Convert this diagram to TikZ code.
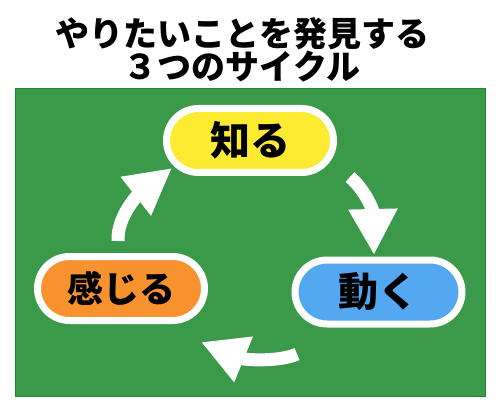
\documentclass[tikz,border=0pt]{standalone}
\usepackage{fontspec}
\newfontfamily\cjk{Noto Sans CJK JP}[BoldFont={Noto Sans CJK JP Black}]
\usetikzlibrary{arrows.meta}
\definecolor{bggreen}{HTML}{3A9A49}
\definecolor{edgegreen}{HTML}{1E8A2E}
\definecolor{pillyellow}{HTML}{FCEB30}
\definecolor{pillorange}{HTML}{F7922F}
\definecolor{pillblue}{HTML}{54A8F2}
\tikzset{
  pill/.style={draw=white, line width=7pt, minimum width=167pt, minimum height=64pt,
    rounded corners=32pt, inner sep=0pt, text=black},
  cyclearrow/.style={draw=white, line width=13pt,
    -{Triangle[length=46pt,width=46pt,fill=white]}},
}
\begin{document}
\begin{tikzpicture}[x=1pt,y=-1pt]
\path[fill=white] (0,0) rectangle (500,414);
\useasboundingbox (0,0) rectangle (500,414);
\draw[fill=bggreen, draw=edgegreen, line width=0.8pt] (15,88) rectangle (485,396);
\node[font={\cjk\bfseries\fontsize{34pt}{30pt}\selectfont}, align=center, text=black]
  (title) at (242,50) {やりたいことを発見する\\３つのサイクル};
\node[pill, fill=pillyellow, font={\cjk\bfseries\fontsize{40pt}{40pt}\selectfont}] (know) at (250,140.5) {知る};
\node[pill, fill=pillorange, font={\cjk\bfseries\fontsize{36pt}{36pt}\selectfont}] (feel) at (121,288.5) {感じる};
\node[pill, fill=pillblue, font={\cjk\bfseries\fontsize{40pt}{40pt}\selectfont}] (move) at (378.5,292) {動く};
\coordinate (a1s) at (118,241);
\coordinate (a1e) at (172,168);
\coordinate (a2s) at (350,177);
\coordinate (a2e) at (374,255);
\coordinate (a3s) at (297,354);
\coordinate (a3e) at (201,342);
\draw[cyclearrow] (a1s) .. controls (117,215) and (140,193) .. (a1e);
\draw[cyclearrow] (a2s) .. controls (365,190) and (373,210) .. (a2e);
\draw[cyclearrow] (a3s) .. controls (280,362) and (245,360) .. (a3e);
\end{tikzpicture}
\end{document}
